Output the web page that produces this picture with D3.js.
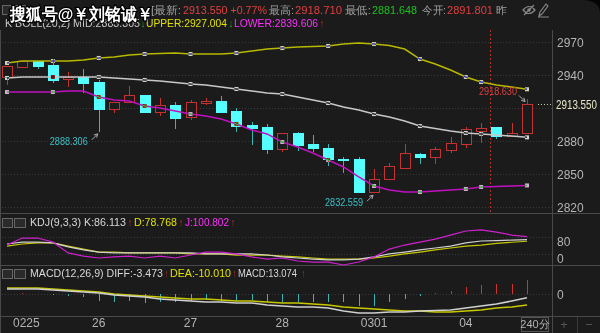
<!DOCTYPE html>
<html><head><meta charset="utf-8">
<script src="https://cdn.jsdelivr.net/npm/d3@7"></script>
<style>
body{margin:0;background:#1b1b1b;overflow:hidden}
svg{display:block}
text{font-family:"Liberation Sans",Arial,sans-serif}
</style>
</head><body>
<svg id="c" width="600" height="333"></svg>
<script>
// ---------- DATA ----------
const openP  = [2938.2,2947.3,2952.7,2949.1,2936.4,2938.2,2933.6,2909.1,2915.5,2921.8,2906.4,2912.7,2901.8,2914.5,2916.4,2907.3,2894.5,2892.7,2872.7,2887.3,2877.3,2873.6,2863.6,2863.6,2833.6,2845.5,2855.5,2868.2,2865.5,2871.8,2877.3,2889.1,2892.7,2884.5,2887.3];
const closeP = [2948.2,2952.7,2948.2,2935.5,2938.2,2932.7,2909.1,2915.5,2921.8,2906.4,2912.7,2900.9,2915.5,2916.4,2906.4,2893.6,2891.8,2872.7,2887.3,2876.4,2873.6,2863.6,2862.7,2833.6,2845.5,2857.3,2869.1,2865.5,2872.7,2878.2,2890.9,2891.8,2884.5,2887.3,2913.55];
const highP  = [2948.2,2952.7,2952.7,2954.5,2942.7,2945.5,2935.5,2915.5,2930.0,2921.8,2919.1,2915.5,2917.3,2919.1,2920.9,2910.0,2897.3,2895.5,2887.3,2888.2,2885.5,2877.3,2865.5,2865.5,2854.5,2860.0,2877.3,2869.1,2874.5,2883.6,2892.7,2896.4,2892.7,2896.4,2918.63];
const lowP   = [2930.9,2947.3,2945.5,2932.7,2929.1,2923.6,2888.306,2905.5,2915.5,2906.4,2902.7,2890.9,2899.1,2912.7,2905.5,2888.2,2876.4,2868.2,2870.0,2870.9,2870.0,2857.3,2850.9,2833.6,2832.559,2845.5,2855.5,2859.1,2859.1,2869.1,2873.6,2878.2,2881.8,2884.5,2887.0];

const bollUpper = [2950.9,2952.7,2952.7,2952.7,2952.7,2953.6,2955.5,2956.4,2958.2,2959.1,2959.5,2960.0,2959.1,2959.1,2959.1,2960.0,2961.8,2963.6,2964.5,2965.5,2965.9,2966.4,2968.2,2969.1,2968.2,2966.8,2963.6,2954.5,2950.0,2944.5,2938.2,2933.6,2930.9,2929.1,2927.004];
const bollMid   = [2937.3,2938.2,2938.2,2938.2,2938.2,2938.2,2938.2,2937.3,2936.4,2935.5,2934.5,2933.2,2931.8,2930.9,2929.1,2927.3,2925.5,2923.6,2922.7,2920.0,2917.3,2914.5,2910.9,2908.2,2904.5,2901.8,2898.2,2893.6,2891.4,2889.1,2887.3,2886.4,2885.5,2884.5,2883.305];
const bollLower = [2924.5,2924.5,2924.5,2924.5,2925.5,2925.5,2920.0,2917.3,2916.4,2911.8,2910.0,2907.3,2904.5,2902.7,2900.0,2895.5,2890.0,2886.4,2879.1,2874.5,2869.1,2862.7,2856.4,2847.3,2839.1,2835.5,2833.6,2833.6,2834.5,2835.5,2836.4,2838.2,2838.6,2839.1,2839.606];
const bollMarkIdx = [0,3,6,9,12,15,18,21,24,27,30,31,34];

const kdjK = [66,75,75,71,52,38,28,24,24,24,24,24,24,19,19,19,19,14,5,0,-5,-9,-9,-5,5,19,28,38,47,56,71,80,82,84,86.113];
const kdjD = [56,66,71,71,56,42,28,28,24,24,24,24,19,19,19,14,14,14,9,5,0,-5,-5,-5,0,9,19,28,38,47,56,61,69,74,78.768];
const kdjJ = [61,94,94,75,24,9,0,5,9,0,9,0,14,28,28,19,5,-5,0,-14,-19,-19,-33,-19,5,42,61,75,89,108,127,132,122,108,100.802];

const macdDiff = [4.5,4.5,4.5,3.6,2.7,1.8,0.9,-0.9,-1.8,-2.7,-4.5,-5.5,-6.4,-7.3,-7.3,-8.2,-8.2,-10,-10.9,-11.8,-11.8,-12.7,-15.5,-17.3,-17.3,-16.4,-16.4,-15.5,-15.0,-14.5,-12.7,-10.9,-9.1,-6.4,-3.473];
const macdDea  = [5.5,5.5,5.5,4.5,3.6,2.7,1.8,0,-0.9,-1.8,-2.7,-3.6,-4.5,-4.5,-5.5,-6.4,-6.4,-7.3,-8.2,-8.2,-9.1,-10,-11.8,-12.7,-13.6,-14.5,-15.5,-15.5,-16.4,-16.4,-15.5,-14.5,-12.7,-11.8,-10.010];
const macdHist = [0.3,0.5,-0.3,-0.8,-2,-2.5,-6,-7,-6.5,-8,-7.5,-7.5,-6.5,-5.5,-6,-6,-5.5,-7.5,-7.5,-7.5,-7.5,-7,-7.5,-11,-11,-7.5,-4.5,-1.5,1,3,6.5,8.5,9.5,9.5,13.074];

const priceTicks = [2970,2940,2910,2880,2850,2820];
const priceLabels = [2970,2940,2880,2850,2820];
const kdjTicks = [80,0];
const macdTicks = [0];
const dateLabels = [["0225",0],["26",6],["27",12],["28",18],["0301",24],["04",30]];
const lastPrice = 2913.55;

// ---------- SETUP ----------
const svg = d3.select("#c");
const W=600,H=333, axisX=552;
const C = {bg:"#1b1b1b", grid:"#3a3a3a", frame:"#4a4a4a", up:"#c43232", down:"#55ffff", downWick:"#3cb4b4",
  upper:"#b8b800", mid:"#c8c8c8", lower:"#c010c0", axisTxt:"#b4b4b4"};
svg.append("rect").attr("width",W).attr("height",H).attr("fill",C.bg);

const N = closeP.length;
const x = d3.scalePoint().domain(d3.range(N)).range([7,527]);
const yP = d3.scaleLinear().domain([2820,2970]).range([207,42]);
const yK = d3.scaleLinear().domain([0,80]).range([258,241]);
const yM = d3.scaleLinear().domain([0,10]).range([294,283]);

// frame lines
const frame = svg.append("g").attr("stroke",C.frame).attr("stroke-width",1).attr("shape-rendering","crispEdges");
frame.append("line").attr("x1",axisX+0.5).attr("x2",axisX+0.5).attr("y1",30).attr("y2",333);
[213.5,265.5,316.5].forEach(yy=>frame.append("line").attr("x1",0).attr("x2",W).attr("y1",yy).attr("y2",yy));
frame.append("line").attr("x1",0.5).attr("x2",0.5).attr("y1",30).attr("y2",333);

// grid
const grid = svg.append("g").attr("stroke",C.grid).attr("stroke-dasharray","1,2").attr("shape-rendering","crispEdges");
priceTicks.forEach(t=>grid.append("line").attr("x1",2).attr("x2",axisX).attr("y1",Math.round(yP(t))+0.5).attr("y2",Math.round(yP(t))+0.5));
[100,20].forEach(t=>grid.append("line").attr("x1",2).attr("x2",axisX).attr("y1",Math.round(yK(t))+0.5).attr("y2",Math.round(yK(t))+0.5));
macdTicks.forEach(t=>grid.append("line").attr("x1",2).attr("x2",axisX).attr("y1",Math.round(yM(t))+0.5).attr("y2",Math.round(yM(t))+0.5));

// axis labels
const ax = svg.append("g").attr("font-size",12).attr("fill",C.axisTxt);
priceLabels.forEach(t=>ax.append("text").attr("x",557).attr("y",yP(t)+4.5).text(t));
kdjTicks.forEach(t=>ax.append("text").attr("x",557).attr("y",yK(t)+4.5).text(t));
macdTicks.forEach(t=>ax.append("text").attr("x",557).attr("y",yM(t)+4.5).text(t));
// current price tag
ax.append("rect").attr("x",554).attr("y",yP(lastPrice)-7).attr("width",46).attr("height",14).attr("fill",C.bg);
ax.append("text").attr("x",556).attr("y",yP(lastPrice)+4.5).attr("fill","#e8e8c8").attr("textLength",41).attr("lengthAdjust","spacingAndGlyphs").text(lastPrice.toFixed(3));
svg.append("line").attr("x1",538).attr("x2",551).attr("y1",Math.round(yP(lastPrice))+0.5).attr("y2",Math.round(yP(lastPrice))+0.5)
  .attr("stroke","#c8c8a0").attr("stroke-dasharray","1,2");

// red dotted vertical marker
svg.append("line").attr("x1",Math.round(x(32))-5.5).attr("x2",Math.round(x(32))-5.5).attr("y1",30).attr("y2",213)
  .attr("stroke","#b03030").attr("stroke-dasharray","2,2");

// ---------- CANDLES ----------
const cg = svg.append("g").attr("shape-rendering","crispEdges");
d3.range(N).forEach(i=>{
  const cx = Math.round(x(i))+0.5, up = closeP[i]>=openP[i];
  const yo=yP(openP[i]), yc=yP(closeP[i]), yh=yP(highP[i]), yl=yP(lowP[i]);
  const top=Math.round(Math.min(yo,yc)), bot=Math.round(Math.max(yo,yc));
  const col = up?C.up:C.downWick;
  cg.append("line").attr("x1",cx).attr("x2",cx).attr("y1",Math.round(yh)).attr("y2",top).attr("stroke",col);
  cg.append("line").attr("x1",cx).attr("x2",cx).attr("y1",bot).attr("y2",Math.round(yl)).attr("stroke",col);
  if(up){
    cg.append("rect").attr("x",cx-5).attr("y",top+0.5).attr("width",10).attr("height",Math.max(1,bot-top)).attr("fill",C.bg).attr("stroke",C.up);
  } else {
    cg.append("rect").attr("x",cx-5.5).attr("y",top).attr("width",11).attr("height",Math.max(1,bot-top+1)).attr("fill",C.down);
  }
});

// ---------- BOLL ----------
const lineP = arr => d3.line().x((d,i)=>x(i)).y(d=>yP(d))(arr);
svg.append("path").attr("d",lineP(bollUpper)).attr("fill","none").attr("stroke",C.upper).attr("stroke-width",1.5);
svg.append("path").attr("d",lineP(bollMid)).attr("fill","none").attr("stroke",C.mid).attr("stroke-width",1.5);
svg.append("path").attr("d",lineP(bollLower)).attr("fill","none").attr("stroke",C.lower).attr("stroke-width",1.5);
const mk = svg.append("g").style("mix-blend-mode","difference");
[[bollUpper,"#f0f0c8"],[bollMid,"#f0f0f0"],[bollLower,"#f0c8f0"]].forEach(([arr,col])=>{
  bollMarkIdx.forEach(i=>mk.append("rect").attr("x",x(i)-2).attr("y",yP(arr[i])-2).attr("width",4).attr("height",4).attr("fill",col));
});

// annotations
function annot(i, val, col, dx, dy, arrow){
  const px=x(i), py=yP(val);
  svg.append("text").attr("x",px+dx).attr("y",py+dy).attr("text-anchor","end").attr("font-size",11)
    .attr("fill",col).attr("textLength",38).attr("lengthAdjust","spacingAndGlyphs").text(val.toFixed(3));
  const [x1,y1,x2,y2]=arrow.map((v,k)=>k%2?py+v:px+v);
  svg.append("line").attr("x1",x1).attr("y1",y1).attr("x2",x2).attr("y2",y2).attr("stroke","#aaaaaa");
  const ang=Math.atan2(y2-y1,x2-x1);
  svg.append("path").attr("d",`M${x2},${y2}L${x2-4*Math.cos(ang-0.5)},${y2-4*Math.sin(ang-0.5)}M${x2},${y2}L${x2-4*Math.cos(ang+0.5)},${y2-4*Math.sin(ang+0.5)}`).attr("stroke","#aaaaaa").attr("fill","none");
}
annot(6, lowP[6], "#3cc0c8", -11, 13, [-7,8,-1,2]);
annot(24, lowP[24], "#3cc0c8", -11, 13, [-7,8,-1,2]);
annot(34, highP[34], "#e04040", -10, -4, [-8,-3,-2,3]);

// ---------- KDJ ----------
const lineK = arr => d3.line().x((d,i)=>x(i)).y(d=>yK(d))(arr);
svg.append("path").attr("d",lineK(kdjD)).attr("fill","none").attr("stroke","#c8c800").attr("stroke-width",1.2);
svg.append("path").attr("d",lineK(kdjK)).attr("fill","none").attr("stroke","#d0d0d0").attr("stroke-width",1.2);
svg.append("path").attr("d",lineK(kdjJ)).attr("fill","none").attr("stroke","#d020d0").attr("stroke-width",1.2);

// ---------- MACD ----------
const mg = svg.append("g").attr("shape-rendering","crispEdges");
d3.range(N).forEach(i=>{
  const cx=Math.round(x(i))+0.5;
  mg.append("line").attr("x1",cx).attr("x2",cx).attr("y1",yM(0)).attr("y2",yM(macdHist[i]))
    .attr("stroke",macdHist[i]>=0?"#d03030":"#3cb4b4");
});
const lineM = arr => d3.line().x((d,i)=>x(i)).y(d=>yM(d))(arr);
svg.append("path").attr("d",lineM(macdDea)).attr("fill","none").attr("stroke","#c8c800").attr("stroke-width",1.5);
svg.append("path").attr("d",lineM(macdDiff)).attr("fill","none").attr("stroke","#d0d0d0").attr("stroke-width",1.5);

// ---------- X AXIS ----------
dateLabels.forEach(([t,i])=>{
  const cx = x(i);
  svg.append("text").attr("x",i===0?13:cx).attr("y",327).attr("text-anchor",i===0?"start":"middle")
    .attr("font-size",12).attr("fill",C.axisTxt).text(t);
});
svg.append("rect").attr("x",521.5).attr("y",317.5).attr("width",27).attr("height",14).attr("fill","none").attr("stroke","#555");
svg.append("text").attr("x",535).attr("y",328).attr("text-anchor","middle").attr("font-size",11).attr("fill",C.axisTxt)
  .attr("font-family","Noto Sans CJK SC").text("240分");
svg.append("line").attr("x1",577.5).attr("x2",577.5).attr("y1",317).attr("y2",333).attr("stroke","#3a3a3a");
svg.append("text").attr("x",564).attr("y",329).attr("text-anchor","middle").attr("font-size",13).attr("fill","#555").text("+");
svg.append("text").attr("x",589).attr("y",329).attr("text-anchor","middle").attr("font-size",13).attr("fill","#555").text("−");

// ---------- HEADERS ----------
function seg(x0,x1,y,str,col,fam,size){
  svg.append("text").attr("x",x0).attr("y",y).attr("fill",col).attr("font-size",size||11)
    .attr("font-family",fam||"Liberation Sans").attr("textLength",x1-x0).attr("lengthAdjust","spacingAndGlyphs").text(str);
}
function boxes(y){
  [[2,12],[14,25]].forEach(([a,b])=>svg.append("rect").attr("x",a+0.5).attr("y",y+0.5).attr("width",b-a).attr("height",9)
    .attr("fill","#2a2a2a").attr("stroke","#666"));
}
const CJK="Noto Sans CJK SC";
// row 1
boxes(5);
seg(151,181,14,"[最新:","#a0a0a0",CJK);
seg(183,267,14,"2913.550 +0.77%","#e04040","Liberation Mono");
seg(269,294,14,"最高:","#a0a0a0",CJK);
seg(295,342,14,"2918.710","#e04040","Liberation Mono");
seg(345,371,14,"最低:","#a0a0a0",CJK);
seg(372,417,14,"2881.648","#20c020","Liberation Mono");
seg(422,446,14,"今开:","#a0a0a0",CJK);
seg(447,493,14,"2891.801","#e04040","Liberation Mono");
seg(496,507,14,"昨","#a0a0a0",CJK);
// icons
svg.append("path").attr("d","M523,10 Q529,3 535,10 Q529,17 523,10 Z M524,15 L534,5").attr("fill","none").attr("stroke","#888").attr("stroke-width",1.2);
svg.append("circle").attr("cx",529).attr("cy",10).attr("r",1.8).attr("fill","#888");
svg.append("path").attr("d","M539,16 L540,12 L546,4 L548,6 L542,14 Z M538,17 L549,17").attr("fill","none").attr("stroke","#888").attr("stroke-width",1.1);
svg.append("path").attr("d","M582,0 Q600,0 600,14 L600,0 Z").attr("fill","#050505");
// row 2
seg(5,140,27,"K BOLL(20,2) MID:2883.305","#c8c8c8");
seg(141,145,27,"↓","#20c020");
seg(146,227,27,"UPPER:2927.004","#e0e000");
seg(229,233,27,"↓","#20c020");
seg(234,318,27,"LOWER:2839.606","#ff30ff");
seg(320,324,27,"↑","#e03030");
// KDJ header
boxes(218);
seg(30,126,226,"KDJ(9,3,3) K:86.113","#d8d8d8");
seg(128,132,226,"↑","#e03030");
seg(134,177,226,"D:78.768","#e0e000");
seg(179,183,226,"↑","#e03030");
seg(185,229,226,"J:100.802","#ff30ff");
seg(231,235,226,"↑","#e03030");
// MACD header
boxes(269);
seg(30,163,277,"MACD(12,26,9) DIFF:-3.473","#d8d8d8");
seg(165,168,277,"↑","#e03030");
seg(170,231,277,"DEA:-10.010","#e0e000");
seg(233,236,277,"↑","#e03030");
seg(238,297,277,"MACD:13.074","#d8d8d8");
seg(302,305,277,"↑","#e03030");

// watermark
svg.append("text").attr("x",10).attr("y",20).attr("font-size",17).attr("font-weight","bold")
  .attr("font-family","Noto Sans CJK SC").attr("fill","#ffffff").attr("stroke","#000").attr("stroke-width",2.5)
  .attr("paint-order","stroke").attr("textLength",143).attr("lengthAdjust","spacingAndGlyphs").text("搜狐号@￥刘铭诚￥");
</script>
</body></html>
